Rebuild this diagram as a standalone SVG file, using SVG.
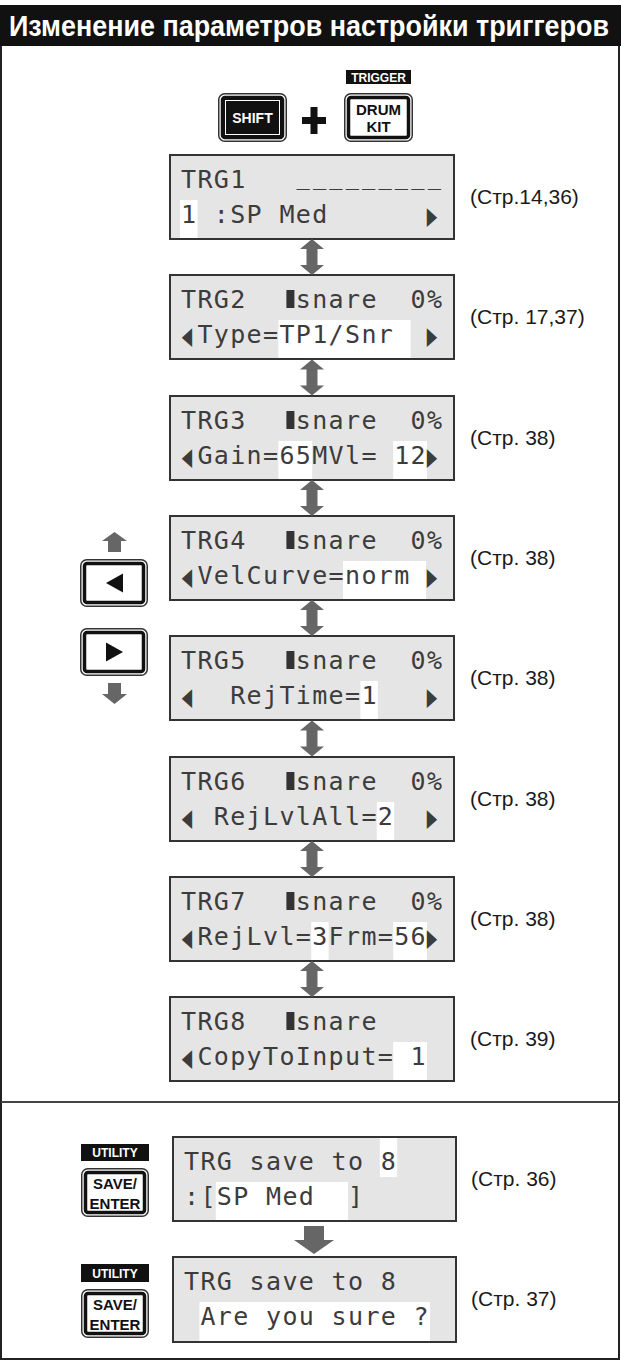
<svg xmlns="http://www.w3.org/2000/svg" width="621" height="1363" viewBox="0 0 621 1363" xml:space="preserve">
<style>
.lcd{fill:#e5e5e5;stroke:#333;stroke-width:2}
.hl{fill:#fff}
.mono{font-family:"DejaVu Sans Mono",monospace;font-size:25px;letter-spacing:1.35px;fill:#3c3c3c;white-space:pre}
.dash{font-family:"DejaVu Sans Mono",monospace;font-size:22px;letter-spacing:3.15px;fill:#3c3c3c}
.tri{font-family:"DejaVu Sans",sans-serif;font-size:24.5px;fill:#3c3c3c;text-anchor:middle}
.blk{fill:#333}
.ref{font-family:"Liberation Sans",Arial,sans-serif;font-size:21px;fill:#1a1a1a}
.arr{fill:#666}
.bo{fill:#fff;stroke:#333;stroke-width:1.5}
.bi{fill:#fff;stroke:#111;stroke-width:3.5}
.lbl{font-family:"Liberation Sans",Arial,sans-serif;font-weight:bold;font-size:12px;fill:#fff;text-anchor:middle}
.bt{font-family:"Liberation Sans",Arial,sans-serif;font-weight:bold;font-size:15px;fill:#111;text-anchor:middle}
</style>
<defs>
<path id="darr" d="M0,0 L12,10 L5.5,10 L5.5,26 L12,26 L0,36 L-12,26 L-5.5,26 L-5.5,10 L-12,10 Z"/>
</defs>

<g id="frame">
<rect x="1" y="45" width="618" height="1314" fill="#fff" stroke="#222" stroke-width="2"/>
<rect x="0" y="5" width="621" height="41" fill="#111"/>
<text transform="translate(9,35.5) scale(1,1.1)" x="0" y="0" font-family="Liberation Sans, Arial, sans-serif" font-weight="bold" font-size="26.5" fill="#fff" textLength="600" lengthAdjust="spacingAndGlyphs">Изменение параметров настройки триггеров</text>
<line x1="1" y1="1102" x2="619" y2="1102" stroke="#444" stroke-width="2"/>
</g>

<g id="btn-shift">
<rect class="bo" x="218.75" y="93.75" width="67.5" height="47.5" rx="6"/>
<rect x="222.5" y="97.5" width="60" height="40" rx="2.5" fill="#111" stroke="#111" stroke-width="3.5"/>
<rect x="225.5" y="100.5" width="54" height="34" fill="none" stroke="#fff" stroke-width="1"/>
<text class="lbl" x="252.5" y="122.5" style="font-size:14px">SHIFT</text>
</g>
<g id="plus">
<rect x="302" y="117" width="24" height="7" fill="#111"/>
<rect x="310.5" y="107" width="7" height="27" fill="#111"/>
</g>
<g id="btn-drumkit">
<rect x="346" y="70" width="65" height="14" fill="#111"/>
<text class="lbl" x="378.5" y="81.5">TRIGGER</text>
<rect class="bo" x="344.75" y="93.75" width="67.5" height="47.5" rx="6"/>
<rect class="bi" x="348.5" y="97.5" width="60" height="40" rx="2.5"/>
<text class="bt" x="378.5" y="114.5">DRUM</text>
<text class="bt" x="378.5" y="132">KIT</text>
</g>

<g id="btn-left">
<rect class="bo" x="80.75" y="559.75" width="66.5" height="46.5" rx="6"/>
<rect class="bi" x="84.5" y="563.5" width="59" height="39" rx="2.5"/>
<polygon points="106,583 123,573.5 123,592.5" fill="#111"/>
</g>
<g id="btn-right">
<rect class="bo" x="80.75" y="628.75" width="66.5" height="46.5" rx="6"/>
<rect class="bi" x="84.5" y="632.5" width="59" height="39" rx="2.5"/>
<polygon points="123,652 106,642.5 106,661.5" fill="#111"/>
</g>

<g id="lcd1">
<rect class="lcd" x="170" y="155" width="284" height="84"/>
<rect class="hl" x="180" y="200" width="17.5" height="38"/>
<text class="mono" x="181" y="188">TRG1</text>
<text class="dash" x="296.5" y="185">_________</text>
<text class="mono" x="181" y="223">1</text>
<text class="mono" x="213.8" y="223">:SP Med</text>
<text class="tri" transform="translate(432,223.5) scale(0.55,1)">▶</text>
<text class="ref" x="470" y="204">(Стр.14,36)</text>
</g>

<g id="lcd2">
<rect class="lcd" x="170" y="275" width="284" height="84"/>
<rect class="hl" x="278.4" y="320" width="132.2" height="38"/>
<text class="mono" x="181" y="308">TRG2</text>
<rect class="blk" x="286.4" y="290" width="8" height="18"/>
<text class="mono" x="295.8" y="308">snare</text>
<text class="mono" x="410.6" y="308">0%</text>
<text class="tri" transform="translate(187,343.5) scale(0.55,1)">◀</text>
<text class="mono" x="197.4" y="343">Type=TP1/Snr</text>
<text class="tri" transform="translate(432,343.5) scale(0.55,1)">▶</text>
<text class="ref" x="470" y="324">(Стр. 17,37)</text>
</g>

<g id="lcd3">
<rect class="lcd" x="170" y="396" width="284" height="84"/>
<rect class="hl" x="278.4" y="441" width="33.8" height="38"/>
<rect class="hl" x="393.2" y="441" width="33.8" height="38"/>
<text class="mono" x="181" y="429">TRG3</text>
<rect class="blk" x="286.4" y="411" width="8" height="18"/>
<text class="mono" x="295.8" y="429">snare</text>
<text class="mono" x="410.6" y="429">0%</text>
<text class="tri" transform="translate(187,464.5) scale(0.55,1)">◀</text>
<text class="mono" x="197.4" y="464">Gain=65MVl=</text>
<text class="mono" x="394.2" y="464">12</text>
<text class="tri" transform="translate(432,464.5) scale(0.55,1)">▶</text>
<text class="ref" x="470" y="445">(Стр. 38)</text>
</g>

<g id="lcd4">
<rect class="lcd" x="170" y="516" width="284" height="84"/>
<rect class="hl" x="343" y="561" width="83" height="38"/>
<text class="mono" x="181" y="549">TRG4</text>
<rect class="blk" x="286.4" y="531" width="8" height="18"/>
<text class="mono" x="295.8" y="549">snare</text>
<text class="mono" x="410.6" y="549">0%</text>
<text class="tri" transform="translate(187,584.5) scale(0.55,1)">◀</text>
<text class="mono" x="197.4" y="584">VelCurve=norm</text>
<text class="tri" transform="translate(432,584.5) scale(0.55,1)">▶</text>
<text class="ref" x="470" y="565">(Стр. 38)</text>
</g>

<g id="lcd5">
<rect class="lcd" x="170" y="636" width="284" height="84"/>
<rect class="hl" x="360.4" y="681" width="17.4" height="38"/>
<text class="mono" x="181" y="669">TRG5</text>
<rect class="blk" x="286.4" y="651" width="8" height="18"/>
<text class="mono" x="295.8" y="669">snare</text>
<text class="mono" x="410.6" y="669">0%</text>
<text class="tri" transform="translate(187,704.5) scale(0.55,1)">◀</text>
<text class="mono" x="230.2" y="704">RejTime=1</text>
<text class="tri" transform="translate(432,704.5) scale(0.55,1)">▶</text>
<text class="ref" x="470" y="685">(Стр. 38)</text>
</g>

<g id="lcd6">
<rect class="lcd" x="170" y="757" width="284" height="84"/>
<rect class="hl" x="376.8" y="802" width="17.4" height="38"/>
<text class="mono" x="181" y="790">TRG6</text>
<rect class="blk" x="286.4" y="772" width="8" height="18"/>
<text class="mono" x="295.8" y="790">snare</text>
<text class="mono" x="410.6" y="790">0%</text>
<text class="tri" transform="translate(187,825.5) scale(0.55,1)">◀</text>
<text class="mono" x="213.8" y="825">RejLvlAll=2</text>
<text class="tri" transform="translate(432,825.5) scale(0.55,1)">▶</text>
<text class="ref" x="470" y="806">(Стр. 38)</text>
</g>

<g id="lcd7">
<rect class="lcd" x="170" y="877" width="284" height="84"/>
<rect class="hl" x="311.2" y="922" width="17.4" height="38"/>
<rect class="hl" x="393.2" y="922" width="33.8" height="38"/>
<text class="mono" x="181" y="910">TRG7</text>
<rect class="blk" x="286.4" y="892" width="8" height="18"/>
<text class="mono" x="295.8" y="910">snare</text>
<text class="mono" x="410.6" y="910">0%</text>
<text class="tri" transform="translate(187,945.5) scale(0.55,1)">◀</text>
<text class="mono" x="197.4" y="945">RejLvl=3Frm=56</text>
<text class="tri" transform="translate(432,945.5) scale(0.55,1)">▶</text>
<text class="ref" x="470" y="926">(Стр. 38)</text>
</g>

<g id="lcd8">
<rect class="lcd" x="170" y="997" width="284" height="84"/>
<rect class="hl" x="393.2" y="1042" width="33.8" height="38"/>
<text class="mono" x="181" y="1030">TRG8</text>
<rect class="blk" x="286.4" y="1012" width="8" height="18"/>
<text class="mono" x="295.8" y="1030">snare</text>
<text class="tri" transform="translate(187,1065.5) scale(0.55,1)">◀</text>
<text class="mono" x="197.4" y="1065">CopyToInput=</text>
<text class="mono" x="410.6" y="1065">1</text>
<text class="ref" x="470" y="1046">(Стр. 39)</text>
</g>

<g id="btn-save1">
<rect x="81" y="1144" width="68" height="17" fill="#111"/>
<text class="lbl" x="115" y="1157">UTILITY</text>
<rect class="bo" x="81.75" y="1168.75" width="66.5" height="47.5" rx="6"/>
<rect class="bi" x="85.5" y="1172.5" width="59" height="40" rx="2.5"/>
<text class="bt" x="115" y="1189">SAVE/</text>
<text class="bt" x="115" y="1209">ENTER</text>
</g>

<g id="lcd9">
<rect class="lcd" x="173" y="1137" width="283" height="84"/>
<rect class="hl" x="379.8" y="1138" width="17.4" height="39"/>
<rect class="hl" x="215.8" y="1182" width="132.2" height="38"/>
<text class="mono" x="184" y="1170">TRG save to 8</text>
<text class="mono" x="184" y="1205">:[SP Med</text>
<text class="mono" x="348" y="1205">]</text>
<text class="ref" x="471" y="1186">(Стр. 36)</text>
</g>

<g id="btn-save2">
<rect x="81" y="1264" width="68" height="18" fill="#111"/>
<text class="lbl" x="115" y="1277.5">UTILITY</text>
<rect class="bo" x="81.75" y="1289.75" width="66.5" height="47.5" rx="6"/>
<rect class="bi" x="85.5" y="1293.5" width="59" height="40" rx="2.5"/>
<text class="bt" x="115" y="1310">SAVE/</text>
<text class="bt" x="115" y="1330">ENTER</text>
</g>

<g id="lcd10">
<rect class="lcd" x="173" y="1257" width="283" height="85"/>
<rect class="hl" x="199.4" y="1302" width="230.6" height="39"/>
<text class="mono" x="184" y="1290">TRG save to 8</text>
<text class="mono" x="200.4" y="1325">Are you sure ?</text>
<text class="ref" x="471" y="1306">(Стр. 37)</text>
</g>

<g id="connectors">
<use href="#darr" class="arr" transform="translate(312,239)"/>
<use href="#darr" class="arr" transform="translate(312,359.5)"/>
<use href="#darr" class="arr" transform="translate(312,480)"/>
<use href="#darr" class="arr" transform="translate(312,600)"/>
<use href="#darr" class="arr" transform="translate(312,720.5)"/>
<use href="#darr" class="arr" transform="translate(312,841)"/>
<use href="#darr" class="arr" transform="translate(312,961)"/>
<polygon class="arr" points="304,1226 324,1226 324,1240 334,1240 314,1254 294,1240 304,1240"/>
<polygon class="arr" points="114.5,532 127,541 121,541 121,552 108,552 108,541 102,541"/>
<polygon class="arr" points="108,683 121,683 121,694 127,694 114.5,704 102,694 108,694"/>
</g>
</svg>
